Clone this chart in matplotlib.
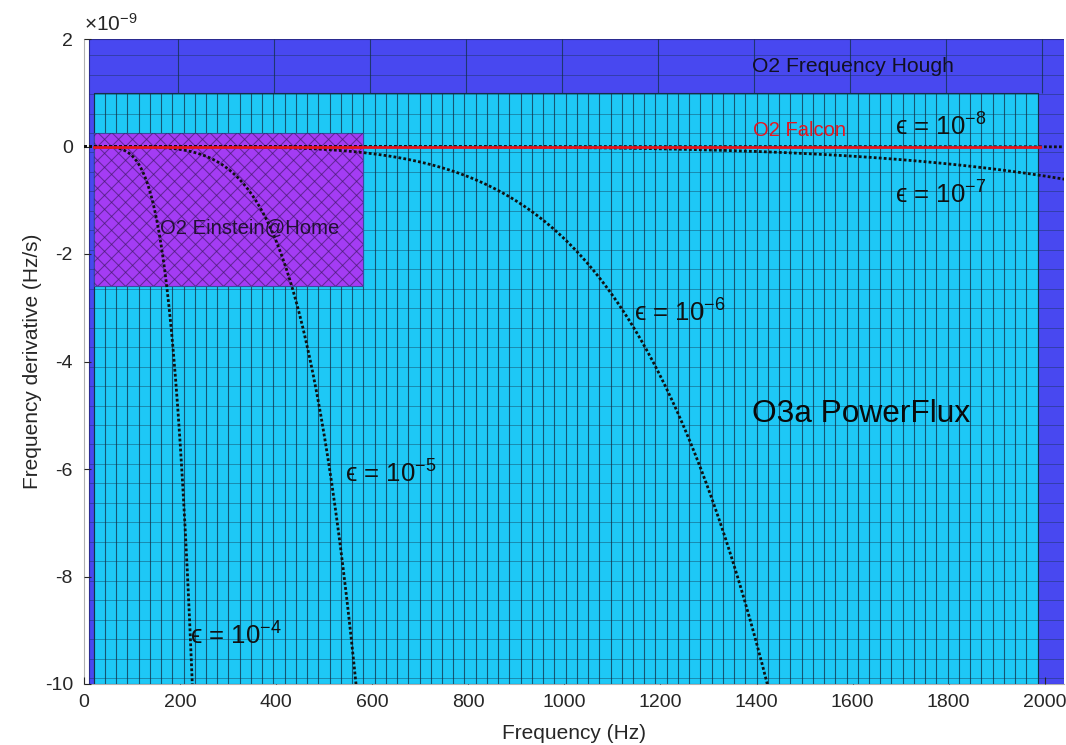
import matplotlib
matplotlib.use("Agg")
import matplotlib.pyplot as plt
from matplotlib.patches import Rectangle
from matplotlib.ticker import FuncFormatter
import numpy as np

plt.rcParams['font.family'] = ['Liberation Sans', 'DejaVu Sans']
plt.rcParams['mathtext.fontset'] = 'custom'
plt.rcParams['mathtext.rm'] = 'Liberation Sans'
plt.rcParams['mathtext.it'] = 'Liberation Sans:italic'
plt.rcParams['axes.unicode_minus'] = False

# search regions: frequency range (Hz) and spin-down range (Hz/s)
hough_f = [10, 2040]
hough_fdot = [-1e-8, 2e-9]
powerflux_f = [20, 1985]
powerflux_fdot = [-1e-8, 1e-9]
einstein_f = [20, 580]
einstein_fdot = [-2.6e-9, 0.26e-9]
falcon_f = [20, 1990]
falcon_fdot = 0.0

# ellipticities for the spin-down limit curves
eps_values = [1e-4, 1e-5, 1e-6, 1e-7, 1e-8]
eps_exponents = [-4, -5, -6, -7, -8]

# physical constants (SI)
G = 6.674e-11
c = 2.998e8
I_zz = 1e38

def spindown(f, eps):
    return -(32 * np.pi**4 / 5) * G * I_zz * eps**2 * f**5 / c**5

fig = plt.figure(figsize=(10.66, 7.45), dpi=100)
ax = fig.add_axes([84 / 1066, 61 / 745, 980 / 1066, 645 / 745])

vgrid = dict(color='#123048', alpha=0.75, linewidth=0.8)
hgrid = dict(color='#123048', alpha=0.4, linewidth=0.7)

# O2 Frequency Hough (background box with a coarse mesh)
ax.add_patch(Rectangle((hough_f[0], hough_fdot[0]), hough_f[1] - hough_f[0] + 50,
                       hough_fdot[1] - hough_fdot[0], facecolor='#4848f0',
                       edgecolor='#2a2a90', linewidth=0.8, zorder=1))
row_lines = np.arange(1.70e-9, -1e-8, -0.3622e-9)
ax.hlines(row_lines, hough_f[0], 2100, zorder=1.1, **hgrid)
ax.vlines(np.arange(195, 2000, 200), powerflux_fdot[1], hough_fdot[1], zorder=1.1, **vgrid)

# O3a PowerFlux
ax.add_patch(Rectangle((powerflux_f[0], powerflux_fdot[0]), powerflux_f[1] - powerflux_f[0],
                       powerflux_fdot[1] - powerflux_fdot[0], facecolor='#1ec8f6',
                       edgecolor='#123048', linewidth=0.8, zorder=2))
ax.vlines(np.linspace(powerflux_f[0], powerflux_f[1], 85), powerflux_fdot[0],
          powerflux_fdot[1], zorder=2.1, **vgrid)
ax.hlines(row_lines[row_lines < powerflux_fdot[1]], powerflux_f[0], powerflux_f[1],
          zorder=2.1, **hgrid)

# O2 Einstein@Home, cross-hatched
eah = Rectangle((einstein_f[0], einstein_fdot[0]), einstein_f[1] - einstein_f[0],
                einstein_fdot[1] - einstein_fdot[0], facecolor='#a43cf4',
                edgecolor='#3a4aa0', linewidth=0.8, zorder=3)
ax.add_patch(eah)
# diagonal hatch lines, 45 degrees on screen
hz_per_px = 2040 / 980
slope = (12e-9 / 645) / hz_per_px
for x0 in np.arange(-700, 1300, 14 * hz_per_px):
    xs = np.array([x0, x0 + 800])
    for y0, s in ((einstein_fdot[0], slope), (einstein_fdot[1], -slope)):
        ln, = ax.plot(xs, y0 + s * (xs - x0), color='#3a1860', alpha=0.6,
                      linewidth=0.75, zorder=3.1)
        ln.set_clip_path(eah)

# O2 Falcon
ax.plot(falcon_f, [falcon_fdot, falcon_fdot], color='#e8141e', linewidth=2, zorder=5)

# spin-down limit curves
freq = np.linspace(0, 2100, 3000)
for eps in eps_values:
    ax.plot(freq, spindown(freq, eps), color='#111111', linestyle=(0, (1, 0.8)),
            linewidth=2, zorder=4)

label_pos = {-4: (221, -9.1e-9), -5: (543, -6.1e-9), -6: (1145, -3.1e-9),
             -7: (1688, -0.9e-9), -8: (1688, 0.36e-9)}
for k in eps_exponents:
    x, y = label_pos[k]
    ax.text(x, y, '\u03f5 = 10$^{%d}$' % k, fontsize=18.5, va='center',
            ha='left', color='#111111', zorder=6)

ax.text(1390, 1.48e-9, 'O2 Frequency Hough', fontsize=15.2, va='center', color='#111122', zorder=6)
ax.text(1392, 0.30e-9, 'O2 Falcon', fontsize=14.5, va='center', color='#e8141e', zorder=6)
ax.text(158, -1.52e-9, 'O2 Einstein@Home', fontsize=14.6, va='center', color='#221133', zorder=6)
ax.text(1390, -4.98e-9, 'O3a PowerFlux', fontsize=22.8, va='center', color='#0a0a0a', zorder=6)

ax.set_xlim(0, 2040)
ax.set_ylim(-1e-8, 2e-9)
ax.set_xticks(np.arange(0, 2001, 200))
ax.set_yticks(np.arange(-10, 3, 2) * 1e-9)
ax.yaxis.set_major_formatter(FuncFormatter(lambda v, p: '%d' % round(v * 1e9)))
ax.text(0, 1.006, '\u00d710$^{-9}$', transform=ax.transAxes, fontsize=15,
        color='#262626', ha='left', va='bottom')
ax.tick_params(direction='in', labelsize=14, colors='#262626', length=5)
ax.tick_params(axis='x', pad=7)
ax.tick_params(axis='y', pad=8)
for s in ['top', 'right']:
    ax.spines[s].set_visible(False)
for s in ['left', 'bottom']:
    ax.spines[s].set_color('#b0b0b0')
    ax.spines[s].set_zorder(0)
ax.set_xlabel('Frequency (Hz)', fontsize=15, color='#262626')
ax.set_ylabel('Frequency derivative (Hz/s)', fontsize=15, color='#262626')
ax.xaxis.set_label_coords(0.5, -0.062)
ax.yaxis.set_label_coords(-0.043, 0.5)

fig.savefig('out.png', dpi=100)
